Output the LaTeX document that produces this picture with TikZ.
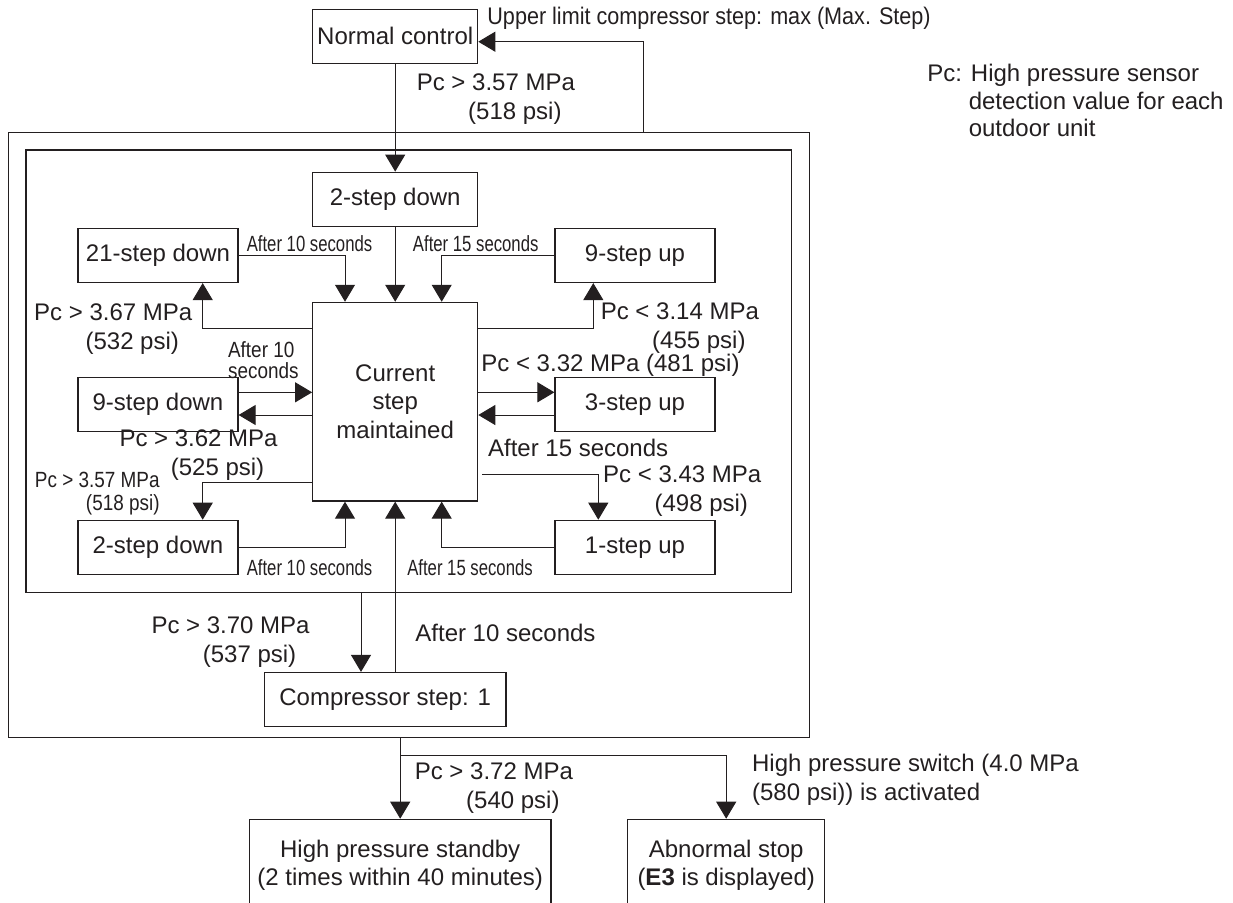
\documentclass[tikz,border=0pt]{standalone}
\usepackage{fontspec}
\setmainfont{Liberation Sans}
\newfontfamily\narrowfont[FakeStretch=0.86]{Liberation Sans}
\newfontfamily\narrowerfont[FakeStretch=0.76]{Liberation Sans}
\newfontfamily\tightfont[FakeStretch=0.9]{Liberation Sans}
\usetikzlibrary{arrows.meta,positioning,calc}
\definecolor{inkline}{HTML}{231F20}
\definecolor{inktext}{HTML}{231F20}

\begin{document}
\begin{tikzpicture}[x=0.5pt, y=-0.5pt,
  frame/.style={draw=inkline, line width=0.6pt, inner sep=0pt},
  stepbox/.style={draw=inkline, line width=0.6pt, inner sep=0pt, align=center, text=inktext, font=\fontsize{12}{14.25}\selectfont, minimum width=80pt, minimum height=27pt},
  arr/.style={draw=inkline, line width=0.5pt, -{Triangle[length=8.5pt,width=10pt]}},
  lbl/.style={inner sep=0pt, text=inktext, font=\fontsize{12}{14.5}\selectfont},
  smalllbl/.style={inner sep=0pt, text=inktext, font=\narrowfont\fontsize{11}{11.6}\selectfont},
  seclbl/.style={inner sep=0pt, text=inktext, font=\narrowerfont\fontsize{11}{11}\selectfont}]

\useasboundingbox (0,0) rectangle (1233,902);
\clip (0,0) rectangle (1233,902);

\node[frame, minimum width=400.5pt, minimum height=302.7pt] (outer) at (408.8,435) {};
\node[frame, minimum width=382.65pt, minimum height=221.35pt] (inner) at (408.65,371.35) {};

\node[stepbox, minimum width=82.5pt] (normal) at (395.2,36.3) {Normal control};
\node[stepbox, minimum width=82.5pt] (twodowntop) at (395.2,199.2) {2-step down};
\node[stepbox] (down21) at (158,255.5) {21-step down};
\node[stepbox] (up9) at (635,255.5) {9-step up};
\node[stepbox, minimum width=82.5pt, minimum height=99.35pt] (current) at (395.2,401.7) {Current\\step\\maintained};
\node[stepbox] (down9) at (158,404.7) {9-step down};
\node[stepbox] (up3) at (635,404.7) {3-step up};
\node[stepbox] (twodownbot) at (158,547.3) {2-step down};
\node[stepbox] (up1) at (635,547.3) {1-step up};
\node[stepbox, minimum width=120.85pt] (comp) at (385.2,699.5) {Compressor step: 1};
\node[stepbox, minimum width=150.85pt, minimum height=46pt] (standby) at (400.2,865.3) {High pressure standby\\(2 times within 40 minutes)};
\node[stepbox, minimum width=98.5pt, minimum height=46pt] (abnormal) at (726.2,865.3) {Abnormal stop\\(\textbf{E3} is displayed)};

\draw[arr] (normal) -- (twodowntop);
\coordinate (backup) at (643.3,132.3);
\draw[arr] (backup) |- ([yshift=-2.7pt]normal.east);
\draw[arr] (twodowntop) -- (current);
\draw[arr] (down21.east) -| ([xshift=-25.1pt]current.north);
\draw[arr] (up9.west) -| ([xshift=23.25pt]current.north);
\draw[arr] ([yshift=36.7pt]current.west) -| ([xshift=22.35pt]down21.south);
\draw[arr] ([yshift=36.7pt]current.east) -| ([xshift=-20.85pt]up9.south);
\draw[arr] ([yshift=6.2pt]down9.east) -- ([yshift=4.7pt]current.west);
\draw[arr] ([yshift=-6.65pt]current.west) -- ([yshift=-5.15pt]down9.east);
\draw[arr] ([yshift=4.7pt]current.east) -- ([yshift=6.2pt]up3.west);
\draw[arr] ([yshift=-5.15pt]up3.west) -- ([yshift=-6.65pt]current.east);
\draw[arr] ([yshift=-40.5pt]current.west) -| ([xshift=22.35pt]twodownbot.north);
\draw[arr] ([xshift=2pt,yshift=-36.3pt]current.east) -| ([xshift=-18.35pt]up1.north);
\draw[arr] (twodownbot.east) -| ([xshift=-25.1pt]current.south);
\draw[arr] (up1.west) -| ([xshift=23.25pt]current.south);
\draw[arr] (comp.north -| current.south) -- (current.south);
\coordinate (trip) at ([xshift=-12.1pt]comp.north);
\draw[arr] (trip |- inner.south) -- (trip);
\draw[arr] (outer.south -| standby.north) -- (standby.north);
\coordinate (split) at (400.2,755.3);
\draw[arr] (split) -| (abnormal.north);

\node[lbl, anchor=west, font=\tightfont\fontsize{12}{14.5}\selectfont] (upper) at (487,18.3) {Upper limit compressor step: max (Max. Step)};
\node[lbl, align=left, anchor=west, font=\fontsize{12}{13.75}\selectfont] (note) at (927,100.8) {Pc: High pressure sensor\\\hphantom{Pc:~}detection value for each\\\hphantom{Pc:~}outdoor unit};
\node[lbl, align=right, anchor=east] (pc357) at (575.3,98.7) {Pc > 3.57 MPa\\(518 psi)\hphantom{0}};
\node[seclbl] (t10a) at (309.5,243.3) {After 10 seconds};
\node[seclbl] (t15a) at (475.7,243.3) {After 15 seconds};
\node[lbl, align=right, anchor=east] (pc367) at (192.7,328.7) {Pc > 3.67 MPa\\(532 psi)\hphantom{0}};
\node[lbl, align=right, anchor=east] (pc314) at (759.3,328) {Pc < 3.14 MPa\\(455 psi)\hphantom{0}};
\node[smalllbl, align=left, anchor=west, font=\narrowfont\fontsize{11}{10.35}\selectfont] (t10b) at (227.7,360.4) {After 10\\seconds};
\node[lbl, anchor=west] (pc332) at (481,365.7) {Pc < 3.32 MPa (481 psi)};
\node[lbl, align=right, anchor=east] (pc362) at (278,455.4) {Pc > 3.62 MPa\\(525 psi)\hphantom{0}};
\node[lbl, anchor=west] (t15b) at (487.7,448) {After 15 seconds};
\node[smalllbl, align=right, anchor=east] (pc357b) at (160,493.4) {Pc > 3.57 MPa\\(518 psi)};
\node[lbl, align=right, anchor=east] (pc343) at (761.7,491) {Pc < 3.43 MPa\\(498 psi)\hphantom{0}};
\node[seclbl] (t10c) at (309.5,567.7) {After 10 seconds};
\node[seclbl] (t15c) at (470,567.7) {After 15 seconds};
\node[lbl, align=right, anchor=east] (pc370) at (310,642.2) {Pc > 3.70 MPa\\(537 psi)\hphantom{0}};
\node[lbl, anchor=west] (t10d) at (415,632.7) {After 10 seconds};
\node[lbl, align=right, anchor=east] (pc372) at (573.3,787.7) {Pc > 3.72 MPa\\(540 psi)\hphantom{0}};
\node[lbl, align=left, anchor=west] (hps) at (751.7,779.5) {High pressure switch (4.0 MPa\\(580 psi)) is activated};
\end{tikzpicture}
\end{document}
